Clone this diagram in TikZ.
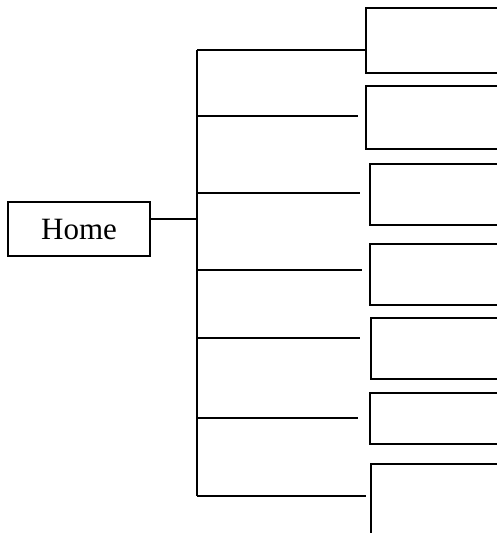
\documentclass[tikz,border=0pt]{standalone}
\usepackage{fontspec}
\setmainfont{Liberation Serif}
\usetikzlibrary{positioning}

\begin{document}
\begin{tikzpicture}[
    x=1pt, y=-1pt,
    page/.style={draw, line width=1.5pt, minimum width=135pt, anchor=north west,
                 inner sep=0pt},
    link/.style={line width=1.3pt},
    homebox/.style={draw, line width=1.3pt, minimum width=142pt, minimum height=54pt,
                    font=\fontsize{31}{36}\selectfont}
  ]
  \useasboundingbox (0,0) rectangle (496,533);

  \node[homebox] (home) at (79,229) {Home};

  \node[page, minimum height=65pt] (p1) at (365,7) {};
  \node[page, minimum height=63pt] (p2) at (365,85) {};
  \node[page, minimum height=61pt] (p3) at (369,163) {};
  \node[page, minimum height=61pt] (p4) at (369,243) {};
  \node[page, minimum height=61pt] (p5) at (370,317) {};
  \node[page, minimum height=51pt] (p6) at (369,392) {};
  \node[page, minimum height=100pt] (p7) at (370,463) {};

  % spine
  \coordinate (s1) at (197,50);
  \coordinate (s2) at (197,116);
  \coordinate (s3) at (197,193);
  \coordinate (s4) at (197,270);
  \coordinate (s5) at (197,338);
  \coordinate (s6) at (197,418);
  \coordinate (s7) at (197,496);
  \draw[link] (s1) -- (s7);
  \draw[link] ([yshift=10pt]home.east) -- ([yshift=10pt]home.east -| s1);

  \draw[link] (s1) -- (p1.west |- s1);
  \draw[link, shorten >=7pt] (s2) -- (p2.west |- s2);
  \draw[link, shorten >=9pt] (s3) -- (p3.west |- s3);
  \draw[link, shorten >=7pt] (s4) -- (p4.west |- s4);
  \draw[link, shorten >=10pt] (s5) -- (p5.west |- s5);
  \draw[link, shorten >=11pt] (s6) -- (p6.west |- s6);
  \draw[link, shorten >=4pt] (s7) -- (p7.west |- s7);
\end{tikzpicture}
\end{document}
